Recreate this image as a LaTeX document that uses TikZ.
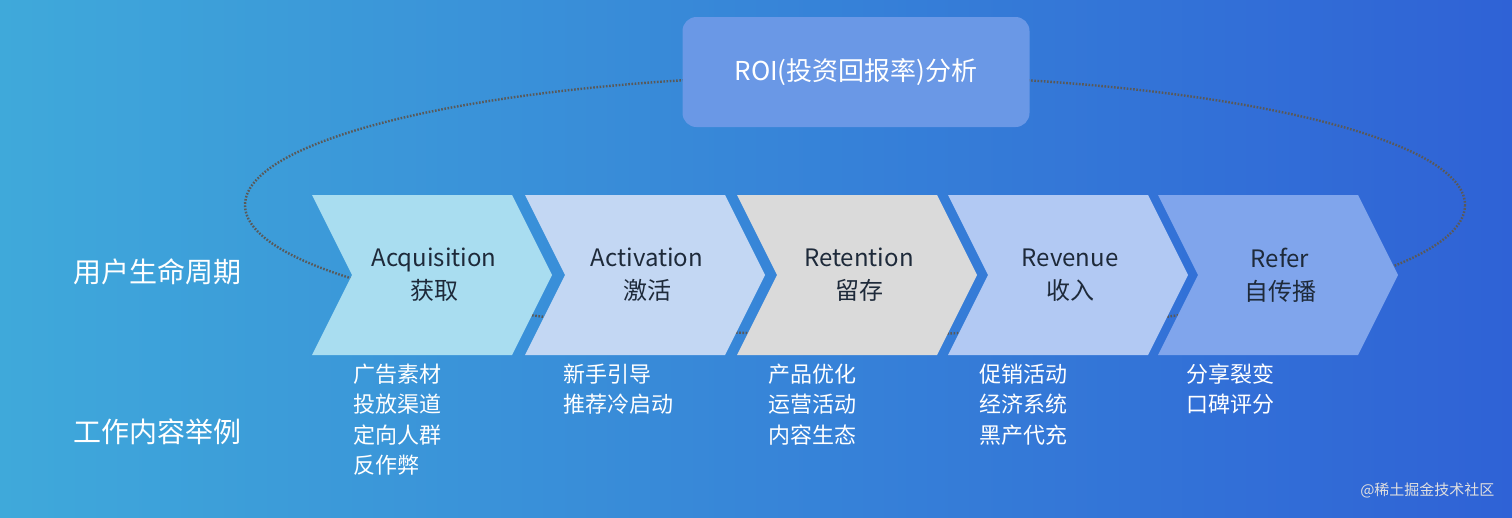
\documentclass[tikz,border=0pt]{standalone}
\usepackage{fontspec}
\setmainfont{Noto Sans CJK SC}
\usetikzlibrary{shapes.geometric}
\definecolor{bgleft}{HTML}{3FA9DA}
\definecolor{bgright}{HTML}{2F62D6}
\definecolor{roiblue}{HTML}{6A98E6}
\definecolor{cAcq}{HTML}{A9DDF0}
\definecolor{cAct}{HTML}{C3D7F3}
\definecolor{cRet}{HTML}{DADADA}
\definecolor{cRev}{HTML}{B2C9F3}
\definecolor{cRef}{HTML}{80A5EC}
\definecolor{txtdark}{HTML}{1E2A3A}
\tikzset{
  stage/.style={font=\fontsize{24}{33}\selectfont, text=txtdark, align=center},
  side/.style={font=\fontsize{28}{30}\selectfont, text=white},
  task/.style={font=\fontsize{22}{30.5}\selectfont, text=white, align=left, anchor=north west},
}
\begin{document}
\begin{tikzpicture}[x=1pt,y=-1pt]
  \useasboundingbox (0,0) rectangle (1512,517);
  \shade[left color=bgleft, right color=bgright] (0,0) rectangle (1512,517);
  % loop
  \draw[dash pattern=on 1.6pt off 1.6pt, line width=2.4pt, black!65] (855,205) ellipse [x radius=610, y radius=130];
  % ROI box
  \node[fill=roiblue, rounded corners=14pt, minimum width=347, minimum height=110,
        text=white, font=\fontsize{26}{30}\selectfont] (roi) at (856,72) {ROI(投资回报率)分析};
  % chevrons
  \foreach \x/\c/\n in {312/cAcq/acq,525/cAct/act,737/cRet/ret,948/cRev/rev,1158/cRef/ref} {
    \fill[\c] (\x,195) -- (\x+200,195) -- (\x+240,275) -- (\x+200,355)
      -- (\x,355) -- (\x+40,275) -- cycle;
    \coordinate (\n) at (\x+122,275);
  }
  \node[stage] (tAcq) at (acq) {Acquisition\\获取};
  \node[stage] (tAct) at (act) {Activation\\激活};
  \node[stage] (tRet) at (ret) {Retention\\留存};
  \node[stage] (tRev) at (rev) {Revenue\\收入};
  \node[stage] (tRef) at (ref) {Refer\\自传播};
  % side labels
  \node[side] (life) at (157,272) {用户生命周期};
  \node[side] (work) at (157,432) {工作内容举例};
  % tasks
  \node[task] (wAcq) at (350,360) {广告素材\\投放渠道\\定向人群\\反作弊};
  \node[task] (wAct) at (560,360) {新手引导\\推荐冷启动};
  \node[task] (wRet) at (765,360) {产品优化\\运营活动\\内容生态};
  \node[task] (wRev) at (976,360) {促销活动\\经济系统\\黑产代充};
  \node[task] (wRef) at (1183,360) {分享裂变\\口碑评分};
  \node[text=white!75!gray, font=\fontsize{15}{17}\selectfont, anchor=east] (mark) at (1498,490) {@稀土掘金技术社区};
\end{tikzpicture}
\end{document}
